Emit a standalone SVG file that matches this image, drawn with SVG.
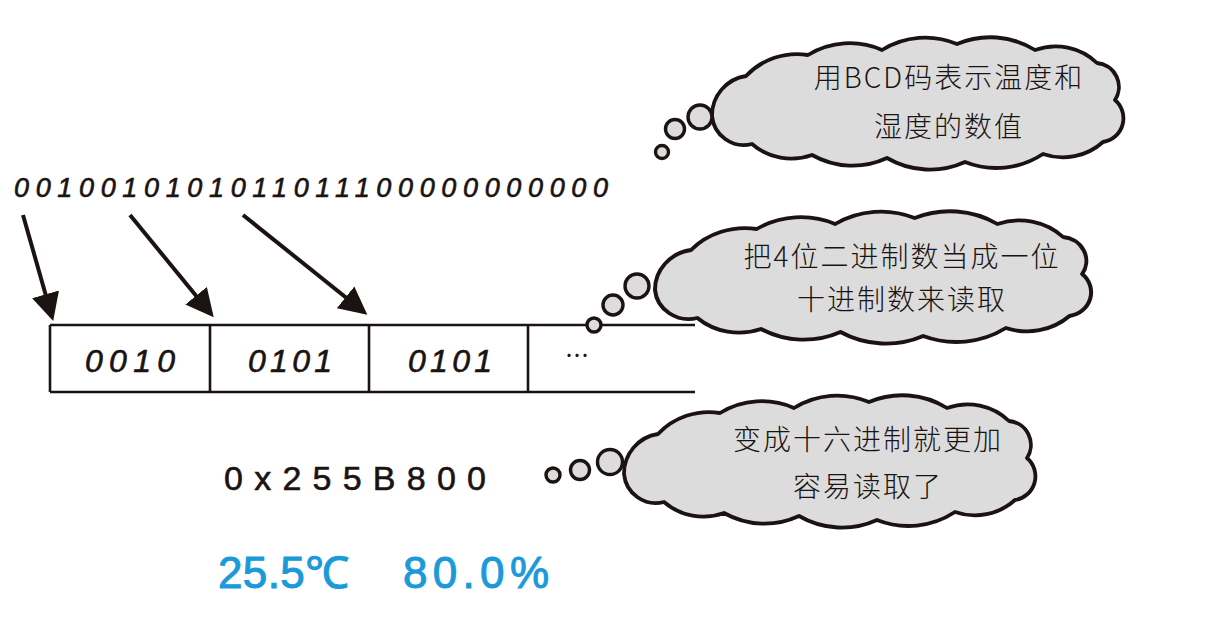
<svg xmlns="http://www.w3.org/2000/svg" xmlns:xlink="http://www.w3.org/1999/xlink" width="1215" height="640" viewBox="0 0 1215 640">
<style>
.cloud{fill:#dcdcdc;stroke:#1a1311;stroke-width:3.8;stroke-linejoin:round}
.bub{fill:#dcdcdc;stroke:#1a1311;stroke-width:3.4}
.ct{font-family:"Noto Sans CJK SC","Noto Sans",sans-serif;font-weight:300;font-size:28px;letter-spacing:2px;fill:#1a1311;text-anchor:middle}
.bin{font-family:"Liberation Sans","DejaVu Sans",sans-serif;font-style:italic;fill:#1a1311;stroke:#1a1311;stroke-width:0.6}
.line{stroke:#1a1311;stroke-width:2.6;fill:none}
.arr{stroke:#1a1311;stroke-width:4;fill:none;marker-end:url(#ah)}
.blue{font-family:"Liberation Sans","Noto Sans",sans-serif;font-size:44px;fill:#1a9ad9;stroke:#1a9ad9;stroke-width:1}
</style>
<defs>
<marker id="ah" markerUnits="userSpaceOnUse" markerWidth="30" markerHeight="30" viewBox="0 -14 28 28" refX="22" refY="0" orient="auto">
<path d="M0,-13 L26,0 L0,13 Z" fill="#1a1311"/>
</marker>
<path id="cloudshape" d="M712,116 A40,40 0 0 1 746,76 A70,70 0 0 1 808,55 A80,80 0 0 1 882,50 A82,82 0 0 1 957,44 A85,85 0 0 1 1035,50 A60,60 0 0 1 1097,63 A24,24 0 0 1 1115,100 A24,24 0 0 1 1103,142 A60,60 0 0 1 1043,154 A85,85 0 0 1 965,162 A85,85 0 0 1 887,158 A82,82 0 0 1 812,155 A60,60 0 0 1 752,144 A32,32 0 0 1 712,116 Z"/>
</defs>
<rect width="1215" height="640" fill="#ffffff"/>

<g id="binary">
<text class="bin" x="14" y="197" font-size="27" textLength="594" lengthAdjust="spacing">0010010101011011100000000000</text>
</g>

<g id="register">
<line class="line" x1="50" y1="325" x2="695" y2="325"/>
<line class="line" x1="50" y1="392" x2="695" y2="392"/>
<line class="line" x1="50" y1="325" x2="50" y2="392"/>
<line class="line" x1="210" y1="325" x2="210" y2="392"/>
<line class="line" x1="369" y1="325" x2="369" y2="392"/>
<line class="line" x1="528" y1="325" x2="528" y2="392"/>
<text class="bin" x="130" y="372" font-size="32" text-anchor="middle" textLength="90" lengthAdjust="spacing">0010</text>
<text class="bin" x="290" y="372" font-size="32" text-anchor="middle" textLength="84" lengthAdjust="spacing">0101</text>
<text class="bin" x="450" y="372" font-size="32" text-anchor="middle" textLength="84" lengthAdjust="spacing">0101</text>
<text x="577" y="364" font-family="Noto Sans CJK SC, sans-serif" font-size="24" fill="#1a1311" text-anchor="middle">…</text>
</g>

<g id="connectors">
<line class="arr" x1="23" y1="215" x2="52" y2="317"/>
<line class="arr" x1="130" y1="215" x2="211" y2="314"/>
<line class="arr" x1="243" y1="215" x2="364" y2="312"/>
</g>

<g id="cloud1">
<use href="#cloudshape" class="cloud"/>
<circle class="bub" cx="700" cy="117" r="12"/>
<circle class="bub" cx="675" cy="129" r="9.5"/>
<circle class="bub" cx="662" cy="152" r="6.5"/>
<text class="ct" x="949" y="88">用BCD码表示温度和</text>
<text class="ct" x="949" y="137">湿度的数值</text>
</g>

<g id="cloud2">
<use href="#cloudshape" class="cloud" transform="translate(655,290) scale(1.06,1) translate(-712,-116)"/>
<circle class="bub" cx="637" cy="286" r="12"/>
<circle class="bub" cx="613" cy="305" r="10"/>
<circle class="bub" cx="594" cy="325" r="7"/>
<text class="ct" x="902" y="267">把4位二进制数当成一位</text>
<text class="ct" x="902" y="310">十进制数来读取</text>
</g>

<g id="cloud3">
<use href="#cloudshape" class="cloud" transform="translate(-88,358)"/>
<circle class="bub" cx="610" cy="462" r="12.5"/>
<circle class="bub" cx="580" cy="470" r="9.5"/>
<circle class="bub" cx="553" cy="475" r="7"/>
<text class="ct" x="868" y="450">变成十六进制就更加</text>
<text class="ct" x="868" y="497">容易读取了</text>
</g>

<g id="hex">
<text x="224" y="490" font-family="Liberation Sans, sans-serif" font-size="34" fill="#1a1311" stroke="#1a1311" stroke-width="0.6" textLength="262" lengthAdjust="spacing">0x255B800</text>
</g>

<g id="values">
<text class="blue" x="218" y="588" textLength="131" lengthAdjust="spacing">25.5℃</text>
<text class="blue" x="403" y="588" textLength="146" lengthAdjust="spacing">80.0%</text>
</g>
</svg>
